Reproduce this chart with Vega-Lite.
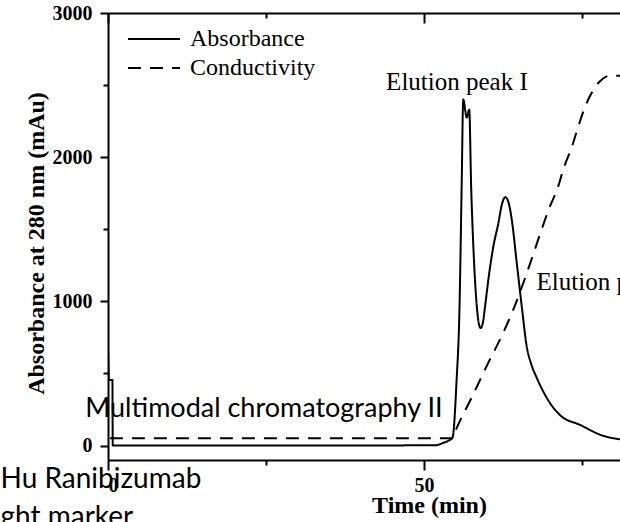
{
  "$schema": "https://vega.github.io/schema/vega-lite/v6.json",
  "width": 512,
  "height": 447,
  "autosize": {"type": "none"},
  "padding": {"left": 108, "top": 13, "right": 0, "bottom": 62},
  "background": "white",
  "config": {
    "view": {"stroke": null},
    "font": "Liberation Serif",
    "axis": {
      "grid": false,
      "domainColor": "black",
      "domainWidth": 2,
      "tickColor": "black",
      "tickWidth": 2,
      "labelFont": "Liberation Serif",
      "labelFontWeight": "bold",
      "labelFontSize": 20,
      "labelColor": "black",
      "titleFont": "Liberation Serif",
      "titleFontWeight": "bold",
      "titleFontSize": 24,
      "titleColor": "black"
    }
  },
  "datasets": {
    "traces": [
      {"series": "Absorbance", "t": 0, "value": 712},
      {"series": "Absorbance", "t": 0.15, "value": 455},
      {"series": "Absorbance", "t": 0.7, "value": 455},
      {"series": "Absorbance", "t": 0.75, "value": 0},
      {"series": "Absorbance", "t": 20, "value": 0},
      {"series": "Absorbance", "t": 51.7, "value": 2},
      {"series": "Absorbance", "t": 53, "value": 18},
      {"series": "Absorbance", "t": 54.5, "value": 55},
      {"series": "Absorbance", "t": 55.15, "value": 455},
      {"series": "Absorbance", "t": 55.6, "value": 940},
      {"series": "Absorbance", "t": 55.95, "value": 1800},
      {"series": "Absorbance", "t": 56.2, "value": 2400},
      {"series": "Absorbance", "t": 56.75, "value": 2275},
      {"series": "Absorbance", "t": 57.15, "value": 2330},
      {"series": "Absorbance", "t": 57.45, "value": 1800},
      {"series": "Absorbance", "t": 57.8, "value": 1380},
      {"series": "Absorbance", "t": 58.35, "value": 964},
      {"series": "Absorbance", "t": 58.65, "value": 850},
      {"series": "Absorbance", "t": 58.95, "value": 815},
      {"series": "Absorbance", "t": 59.3, "value": 850},
      {"series": "Absorbance", "t": 59.65, "value": 964},
      {"series": "Absorbance", "t": 60.17, "value": 1150},
      {"series": "Absorbance", "t": 60.96, "value": 1380},
      {"series": "Absorbance", "t": 61.76, "value": 1543},
      {"series": "Absorbance", "t": 62.3, "value": 1670},
      {"series": "Absorbance", "t": 62.86, "value": 1723},
      {"series": "Absorbance", "t": 63.4, "value": 1680},
      {"series": "Absorbance", "t": 63.88, "value": 1566},
      {"series": "Absorbance", "t": 64.67, "value": 1265},
      {"series": "Absorbance", "t": 65.46, "value": 964},
      {"series": "Absorbance", "t": 66.25, "value": 686},
      {"series": "Absorbance", "t": 67.0, "value": 560},
      {"series": "Absorbance", "t": 67.83, "value": 470},
      {"series": "Absorbance", "t": 68.8, "value": 380},
      {"series": "Absorbance", "t": 69.94, "value": 294},
      {"series": "Absorbance", "t": 71.5, "value": 212},
      {"series": "Absorbance", "t": 74.7, "value": 143},
      {"series": "Absorbance", "t": 78.4, "value": 67},
      {"series": "Absorbance", "t": 81, "value": 44},
      {"series": "Absorbance", "t": 90, "value": 18},
      {"series": "Absorbance", "t": 100, "value": 8},
      {"series": "Conductivity", "t": 0.3, "value": 50},
      {"series": "Conductivity", "t": 54.5, "value": 50},
      {"series": "Conductivity", "t": 55, "value": 105},
      {"series": "Conductivity", "t": 57.5, "value": 330},
      {"series": "Conductivity", "t": 60, "value": 560},
      {"series": "Conductivity", "t": 62.5, "value": 780},
      {"series": "Conductivity", "t": 64.1, "value": 941},
      {"series": "Conductivity", "t": 66.8, "value": 1265},
      {"series": "Conductivity", "t": 68.4, "value": 1473},
      {"series": "Conductivity", "t": 69.7, "value": 1635},
      {"series": "Conductivity", "t": 71.3, "value": 1808},
      {"series": "Conductivity", "t": 72, "value": 1912},
      {"series": "Conductivity", "t": 73.4, "value": 2074},
      {"series": "Conductivity", "t": 74.4, "value": 2213},
      {"series": "Conductivity", "t": 75.5, "value": 2352},
      {"series": "Conductivity", "t": 76.5, "value": 2445},
      {"series": "Conductivity", "t": 77.8, "value": 2525},
      {"series": "Conductivity", "t": 79.4, "value": 2565},
      {"series": "Conductivity", "t": 100, "value": 2565}
    ],
    "peakLabels": [
      {"t": 44.0, "value": 2467, "label": "Elution peak I"},
      {"t": 67.8, "value": 1078, "label": "Elution peak II"}
    ],
    "stepLabel": [
      {"t": -3.6, "value": 200, "label": "Multimodal chromatography II"}
    ],
    "sampleLabels": [
      {"t": -17.0, "value": -296, "label": "Hu Ranibizumab"},
      {"t": -17.0, "value": -558, "label": "ght marker"}
    ]
  },
  "resolve": {"axis": {"x": "independent"}},
  "layer": [
    {
      "data": {"name": "traces"},
      "mark": {"type": "line", "color": "black", "strokeWidth": 2, "clip": true, "interpolate": "monotone"},
      "encoding": {
        "x": {
          "field": "t",
          "type": "quantitative",
          "scale": {"domain": [0, 81], "nice": false},
          "axis": {
            "orient": "bottom",
            "values": [0, 25, 50, 75],
            "labelExpr": "datum.value % 50 === 0 ? datum.label : ''",
            "tickSize": {"condition": {"test": "datum.value % 50 === 0", "value": 10}, "value": 5},
            "labelPadding": 5,
            "title": "Time (min)",
            "titleX": 321,
            "titleY": 52,
            "titleBaseline": "alphabetic",
            "titleAlign": "center"
          }
        },
        "y": {
          "field": "value",
          "type": "quantitative",
          "scale": {"domain": [-100, 3000], "nice": false, "zero": false},
          "axis": {
            "values": [0, 500, 1000, 1500, 2000, 2500, 3000],
            "labelExpr": "datum.value % 1000 === 0 ? datum.label : ''",
            "format": "d",
            "tickSize": {"condition": {"test": "datum.value % 1000 === 0", "value": 8}, "value": 5},
            "labelPadding": 8,
            "title": "Absorbance at 280 nm (mAu)",
            "titleX": -65,
            "titleY": 230,
            "titleAngle": -90,
            "titleBaseline": "alphabetic",
            "titleAlign": "center"
          }
        },
        "strokeDash": {
          "field": "series",
          "type": "nominal",
          "scale": {"domain": ["Absorbance", "Conductivity"], "range": [[1, 0], [13, 9]]},
          "legend": {
            "orient": "none",
            "legendX": 19,
            "legendY": 14,
            "title": null,
            "padding": 0,
            "symbolType": "stroke",
            "symbolSize": 2700,
            "symbolStrokeWidth": 2,
            "symbolStrokeColor": "black",
            "clipHeight": 24,
            "labelFont": "Liberation Serif",
            "labelFontSize": 24,
            "labelColor": "black",
            "labelOffset": 9,
            "rowPadding": 5
          }
        }
      }
    },
    {
      "data": {"name": "peakLabels"},
      "mark": {"type": "text", "font": "Liberation Serif", "fontSize": 25, "color": "black", "align": "left", "baseline": "alphabetic"},
      "encoding": {
        "x": {
          "field": "t",
          "type": "quantitative",
          "axis": {
            "orient": "top",
            "values": [0, 25, 50, 75],
            "labels": false,
            "title": null,
            "tickSize": {"condition": {"test": "datum.value % 50 === 0", "value": -10}, "value": -5}
          }
        },
        "y": {"field": "value", "type": "quantitative"},
        "text": {"field": "label"}
      }
    },
    {
      "data": {"name": "stepLabel"},
      "mark": {"type": "text", "font": "Lato", "fontSize": 27, "color": "black", "align": "left", "baseline": "alphabetic"},
      "encoding": {
        "x": {"field": "t", "type": "quantitative", "axis": null},
        "y": {"field": "value", "type": "quantitative"},
        "text": {"field": "label"}
      }
    },
    {
      "data": {"name": "sampleLabels"},
      "mark": {"type": "text", "font": "Lato", "fontSize": 28, "color": "black", "align": "left", "baseline": "alphabetic"},
      "encoding": {
        "x": {"field": "t", "type": "quantitative", "axis": null},
        "y": {"field": "value", "type": "quantitative"},
        "text": {"field": "label"}
      }
    }
  ]
}
